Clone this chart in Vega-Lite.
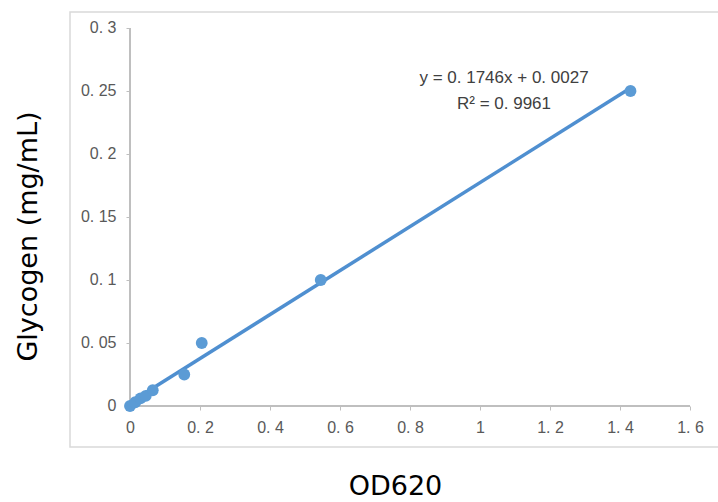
{
  "$schema": "https://vega.github.io/schema/vega-lite/v6.json",
  "width": 650,
  "height": 435,
  "autosize": {"type": "none"},
  "padding": {"left": 70, "top": 12, "right": 0, "bottom": 55},
  "background": "white",
  "config": {
    "view": {"stroke": "#d9d9d9", "strokeWidth": 1.5},
    "axis": {"grid": false, "domain": false, "tickColor": "#bfbfbf", "tickSize": 4, "labelColor": "#595959", "labelFont": "Liberation Sans", "labelFontSize": 16, "titleFont": "DejaVu Sans", "titleFontSize": 27, "titleFontWeight": "normal", "titleColor": "#000000"}
  },
  "datasets": {
    "points": [
      {"od620": 0, "glycogen": 0},
      {"od620": 0.015, "glycogen": 0.003},
      {"od620": 0.03, "glycogen": 0.006},
      {"od620": 0.045, "glycogen": 0.008},
      {"od620": 0.065, "glycogen": 0.0125},
      {"od620": 0.155, "glycogen": 0.025},
      {"od620": 0.205, "glycogen": 0.05},
      {"od620": 0.545, "glycogen": 0.1},
      {"od620": 1.43, "glycogen": 0.25}
    ],
    "fit": [
      {"od620": 0, "glycogen": 0.0027},
      {"od620": 1.43, "glycogen": 0.2524}
    ]
  },
  "layer": [
    {
      "data": {"name": "points"},
      "mark": {"type": "rule", "color": "#bfbfbf", "strokeWidth": 1.5},
      "encoding": {
        "x": {"datum": 0, "type": "quantitative", "scale": {"domain": [-0.171429, 1.685714], "nice": false, "zero": false},
          "axis": {"values": [0, 0.2, 0.4, 0.6, 0.8, 1, 1.2, 1.4, 1.6], "offset": -41, "labelPadding": 9, "labelExpr": "replace(format(datum.value, '~g'), '.', '. ')", "title": "OD620", "titleX": 325, "titleY": 80, "titleBaseline": "middle", "titleAlign": "center"}},
        "x2": {"datum": 1.6},
        "y": {"datum": 0, "type": "quantitative", "scale": {"domain": [-0.03254, 0.312698], "nice": false, "zero": false},
          "axis": {"values": [0, 0.05, 0.1, 0.15, 0.2, 0.25, 0.3], "offset": -60, "labelPadding": 10, "labelExpr": "replace(format(datum.value, '~g'), '.', '. ')", "title": "Glycogen (mg/mL)", "titleX": -102, "titleY": 224, "titleAngle": -90, "titleBaseline": "middle", "titleAlign": "center"}}
      }
    },
    {
      "data": {"name": "points"},
      "mark": {"type": "rule", "color": "#bfbfbf", "strokeWidth": 1.5},
      "encoding": {
        "x": {"datum": 0, "type": "quantitative"},
        "y": {"datum": 0, "type": "quantitative"},
        "y2": {"datum": 0.3}
      }
    },
    {
      "data": {"name": "fit"},
      "mark": {"type": "line", "color": "#4f8fd0", "strokeWidth": 3.5},
      "encoding": {
        "x": {"field": "od620", "type": "quantitative"},
        "y": {"field": "glycogen", "type": "quantitative"}
      }
    },
    {
      "data": {"name": "points"},
      "mark": {"type": "circle", "color": "#5b9bd5", "opacity": 1, "size": 140},
      "encoding": {
        "x": {"field": "od620", "type": "quantitative"},
        "y": {"field": "glycogen", "type": "quantitative"}
      }
    },
    {
      "data": {"values": [{"eq": "y = 0. 1746x + 0. 0027", "r2": "R² = 0. 9961"}]},
      "mark": {"type": "text", "font": "Liberation Sans", "fontSize": 17, "color": "#404040", "align": "center", "baseline": "middle", "lineHeight": 26},
      "encoding": {
        "x": {"datum": 1.0686, "type": "quantitative"},
        "y": {"datum": 0.2603, "type": "quantitative"},
        "text": {"value": ["y = 0. 1746x + 0. 0027", "R² = 0. 9961"]}
      }
    }
  ]
}
